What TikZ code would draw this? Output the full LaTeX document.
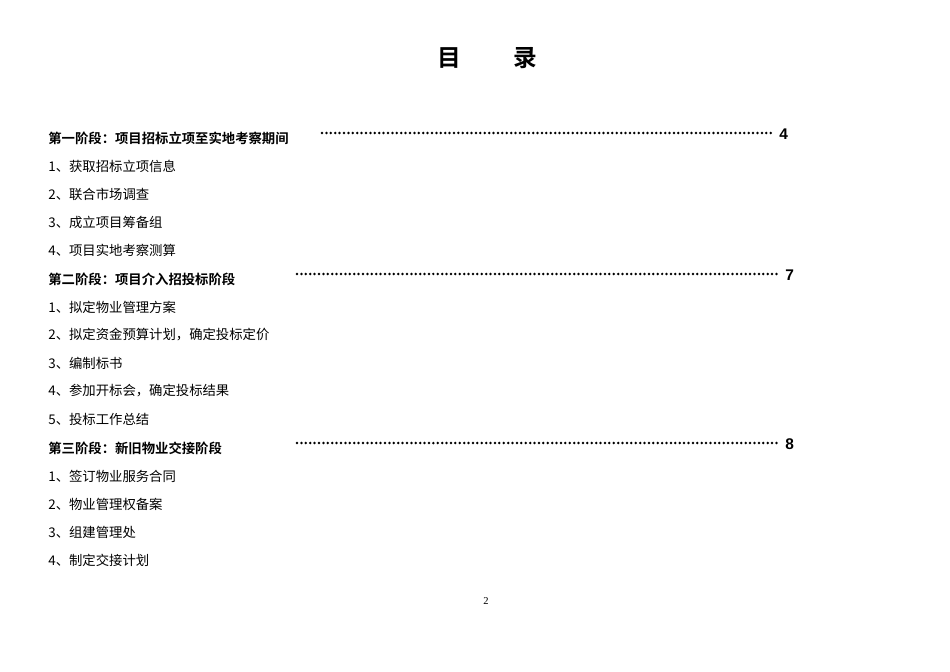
\documentclass[tikz,border=0pt]{standalone}
\usepackage{fontspec}
\setmainfont{Liberation Serif}
\newfontfamily\cjk{Noto Sans CJK SC}
\newfontfamily\cjkb{Noto Sans CJK SC Bold}
\newfontfamily\numb{Liberation Sans Bold}
\begin{document}
\begin{tikzpicture}[x=0.02cm,y=-0.02cm,
  head/.style={anchor=west,inner sep=0pt,font=\cjkb\fontsize{7.6pt}{8pt}\selectfont},
  item/.style={anchor=west,inner sep=0pt,font=\cjk\fontsize{7.6pt}{8pt}\selectfont},
  pnum/.style={anchor=west,inner sep=0pt,font=\numb\fontsize{8.8pt}{9pt}\selectfont},
  dots/.style={line width=0.055cm,dash pattern=on 0pt off 0.088cm,line cap=round}]
\useasboundingbox[fill=white] (0,0) rectangle (950,672);
\node[font=\cjkb\fontsize{13.5pt}{14pt}\selectfont] (title) at (487,58) {目\hspace{2.2em}录};
\node[head] (h1) at (48,138) {第一阶段：项目招标立项至实地考察期间};
\coordinate (d1a) at (322,133); \coordinate (d1b) at (775,133);
\draw[dots] (d1a) -- (d1b);
\node[pnum] (n1) at (779,134) {4};
\node[item] (a1) at (48,166) {1、获取招标立项信息};
\node[item] (a2) at (48,194) {2、联合市场调查};
\node[item] (a3) at (48,222) {3、成立项目筹备组};
\node[item] (a4) at (48,250) {4、项目实地考察测算};
\node[head] (h2) at (48,279) {第二阶段：项目介入招投标阶段};
\coordinate (d2a) at (297,274); \coordinate (d2b) at (780,274);
\draw[dots] (d2a) -- (d2b);
\node[pnum] (n2) at (785,275) {7};
\node[item] (b1) at (48,307) {1、拟定物业管理方案};
\node[item] (b2) at (48,335) {2、拟定资金预算计划，确定投标定价};
\node[item] (b3) at (48,363) {3、编制标书};
\node[item] (b4) at (48,391) {4、参加开标会，确定投标结果};
\node[item] (b5) at (48,419) {5、投标工作总结};
\node[head] (h3) at (48,448) {第三阶段：新旧物业交接阶段};
\coordinate (d3a) at (297,443); \coordinate (d3b) at (780,443);
\draw[dots] (d3a) -- (d3b);
\node[pnum] (n3) at (785,444) {8};
\node[item] (c1) at (48,476) {1、签订物业服务合同};
\node[item] (c2) at (48,504) {2、物业管理权备案};
\node[item] (c3) at (48,532) {3、组建管理处};
\node[item] (c4) at (48,560) {4、制定交接计划};
\node[font=\fontsize{6pt}{7pt}\selectfont] (pg) at (486,601) {2};
\end{tikzpicture}
\end{document}
